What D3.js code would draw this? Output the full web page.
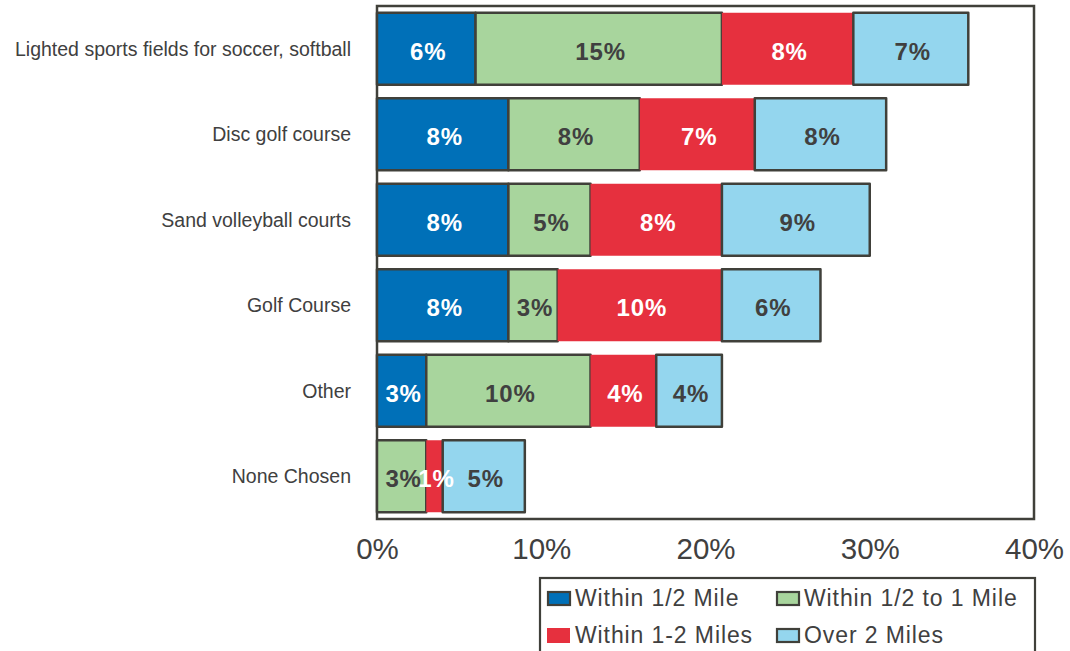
<!DOCTYPE html>
<html>
<head>
<meta charset="utf-8">
<script src="https://cdn.jsdelivr.net/npm/d3@7"></script>
<style>
  html, body { margin: 0; padding: 0; background: #ffffff; }
  svg { display: block; font-family: Arial, "Liberation Sans", sans-serif; }
</style>
</head>
<body>
<svg id="chart" width="1070" height="651"></svg>
<script>
// ---- Data ----
const categories = [
  "Lighted sports fields for soccer, softball",
  "Disc golf course",
  "Sand volleyball courts",
  "Golf Course",
  "Other",
  "None Chosen"
];
const seriesNames = ["Within 1/2 Mile", "Within 1/2 to 1 Mile", "Within 1-2 Miles", "Over 2 Miles"];
const within05 = [6, 8, 8, 8, 3, 0];
const within05to1 = [15, 8, 5, 3, 10, 3];
const within1to2 = [8, 7, 8, 10, 4, 1];
const over2 = [7, 8, 9, 6, 4, 5];
const xTicks = [0, 10, 20, 30, 40];

const seriesColors = ["#0070b8", "#a8d59d", "#e6303e", "#94d6ee"];
const seriesStroke = ["#40403a", "#40403a", "none", "#40403a"];
const labelColors = ["#ffffff", "#404040", "#ffffff", "#404040"];

// ---- Layout ----
const svg = d3.select("#chart");
const plot = { left: 377, right: 1034, top: 6, bottom: 519 };

const x = d3.scaleLinear().domain([0, 40]).range([plot.left, plot.right]);
const y = d3.scaleBand().domain(categories).range([plot.top, plot.bottom])
  .paddingInner(0.158).paddingOuter(0.079);

const seriesData = [within05, within05to1, within1to2, over2];
const table = categories.map((c, i) => {
  const row = { category: c };
  seriesNames.forEach((s, k) => row[s] = seriesData[k][i]);
  return row;
});
const stacked = d3.stack().keys(seriesNames)(table);

// plot border
svg.append("rect")
  .attr("x", plot.left).attr("y", plot.top)
  .attr("width", plot.right - plot.left).attr("height", plot.bottom - plot.top)
  .attr("fill", "none").attr("stroke", "#40403a").attr("stroke-width", 2.5);

// bars
const barLayers = svg.append("g").selectAll("g").data(stacked).join("g");
barLayers.each(function(layer, k) {
  d3.select(this).selectAll("rect").data(layer.filter(d => d[1] - d[0] > 0)).join("rect")
    .attr("x", d => x(d[0]))
    .attr("y", d => y(d.data.category))
    .attr("width", d => x(d[1]) - x(d[0]))
    .attr("height", y.bandwidth())
    .attr("fill", seriesColors[k])
    .attr("stroke", seriesStroke[k])
    .attr("stroke-width", 2.5)
    .attr("stroke-linejoin", "round");
});
// bar labels (drawn above all bars)
const labelLayers = svg.append("g").selectAll("g").data(stacked).join("g");
labelLayers.each(function(layer, k) {
  d3.select(this).selectAll("text").data(layer.filter(d => d[1] - d[0] > 0)).join("text")
    .attr("x", d => (x(d[0]) + x(d[1])) / 2 + 2)
    .attr("y", d => y(d.data.category) + y.bandwidth() / 2 + 11)
    .attr("text-anchor", "middle")
    .attr("font-size", 24)
    .attr("font-weight", "bold")
    .attr("letter-spacing", 0.9)
    .attr("fill", labelColors[k])
    .text(d => (d[1] - d[0]) + "%");
});

// category labels
svg.append("g").selectAll("text").data(categories).join("text")
  .attr("x", 351)
  .attr("y", d => y(d) + y.bandwidth() / 2 + 7)
  .attr("text-anchor", "end")
  .attr("font-size", 19.5)
  .attr("fill", "#404040")
  .text(d => d);

// x axis
const xAxis = d3.axisBottom(x).tickValues(xTicks).tickFormat(d => d + "%").tickSize(0).tickPadding(0);
const ax = svg.append("g").attr("transform", `translate(0,${plot.bottom})`).call(xAxis);
ax.select(".domain").remove();
ax.selectAll("text")
  .attr("y", 40).attr("dy", 0)
  .attr("font-size", 29.5)
  .attr("font-family", "Arial, 'Liberation Sans', sans-serif")
  .attr("fill", "#404040");

// legend
const legend = svg.append("g");
legend.append("rect")
  .attr("x", 540).attr("y", 578).attr("width", 495).attr("height", 90)
  .attr("fill", "#ffffff").attr("stroke", "#40403a").attr("stroke-width", 2.2);
const legendPos = [[547, 591], [776, 591], [547, 628], [776, 628]];
const li = legend.selectAll("g.item").data(seriesNames).join("g").attr("class", "item")
  .attr("transform", (d, i) => `translate(${legendPos[i][0]},${legendPos[i][1]})`);
li.append("rect")
  .attr("x", (d, i) => seriesStroke[i] === "none" ? 0 : 1)
  .attr("y", (d, i) => seriesStroke[i] === "none" ? 0 : 1)
  .attr("width", (d, i) => seriesStroke[i] === "none" ? 23 : 22)
  .attr("height", (d, i) => seriesStroke[i] === "none" ? 15 : 13)
  .attr("fill", (d, i) => seriesColors[i])
  .attr("stroke", (d, i) => seriesStroke[i])
  .attr("stroke-width", 2.2);
li.append("text")
  .attr("x", 28).attr("y", 15)
  .attr("font-size", 23)
  .attr("letter-spacing", 0.9)
  .attr("fill", "#404040")
  .text(d => d);
</script>
</body>
</html>
